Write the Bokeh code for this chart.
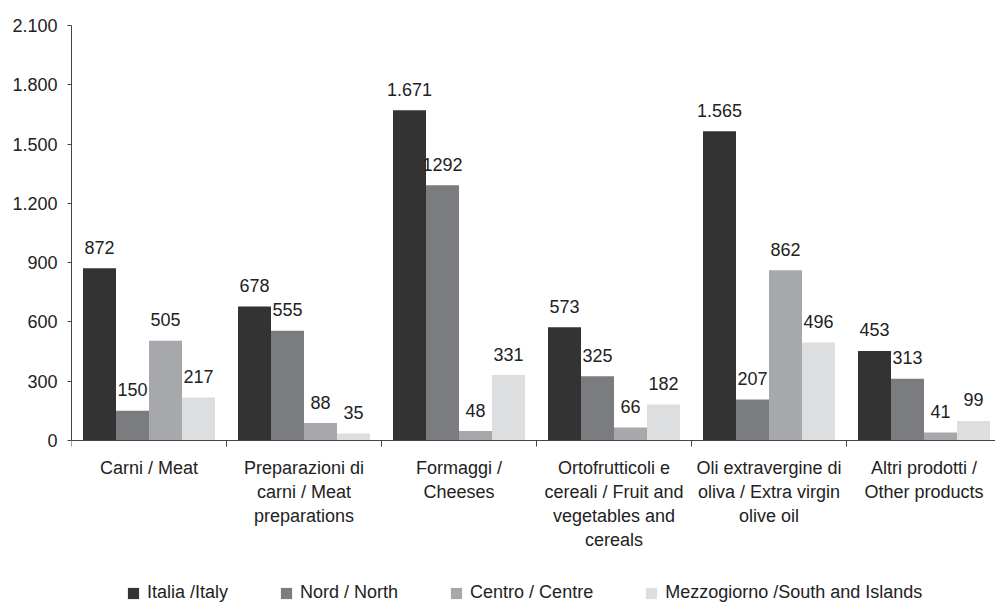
from bokeh.plotting import figure
from bokeh.models import ColumnDataSource, FixedTicker, Range1d, Legend, LegendItem, Span
from bokeh.embed import file_html
from bokeh.resources import INLINE
from bokeh.core.properties import value

categories = [
    "Carni / Meat",
    "Preparazioni di\ncarni / Meat\npreparations",
    "Formaggi /\nCheeses",
    "Ortofrutticoli e\ncereali / Fruit and\nvegetables and\ncereals",
    "Oli extravergine di\noliva / Extra virgin\nolive oil",
    "Altri prodotti /\nOther products",
]
series_names = ["Italia /Italy", "Nord / North", "Centro / Centre", "Mezzogiorno /South and Islands"]
italia = [872, 678, 1671, 573, 1565, 453]
nord = [150, 555, 1292, 325, 207, 313]
centro = [505, 88, 48, 66, 862, 41]
mezzogiorno = [217, 35, 331, 182, 496, 99]
y_ticks = [0, 300, 600, 900, 1200, 1500, 1800, 2100]
colors = ["#333333", "#7b7c80", "#a7a8ab", "#dddee0"]

FONT = "Liberation Sans"
TXT = "#222222"
AX = "#444444"

W, H = 995, 603
LEFT, TOP, ZERO_Y = 71, 25, 440      # pixel layout of the plot area
Y_MAX = 2100
n_cat = len(categories)
cat_px = 155.0
bar_w = 33.0 / cat_px
units_per_px = Y_MAX / (ZERO_Y - TOP)
y_min = -(H - ZERO_Y) * units_per_px

p = figure(width=W, height=H, output_backend="svg", toolbar_location=None,
           x_range=Range1d(0, (W - LEFT) / cat_px), y_range=Range1d(y_min, Y_MAX),
           min_border_left=LEFT, min_border_right=0, min_border_top=TOP, min_border_bottom=0)
p.outline_line_color = None
p.xgrid.grid_line_color = None
p.ygrid.grid_line_color = None
p.background_fill_color = "white"
p.border_fill_color = "white"
p.xaxis.visible = False

all_series = [italia, nord, centro, mezzogiorno]
renderers = []
for j, vals in enumerate(all_series):
    xs = [i + 0.5 + (j - 1.5) * bar_w for i in range(n_cat)]
    if j == 0:
        labels = [f"{v:,}".replace(",", ".") for v in vals]
    else:
        labels = [str(v) for v in vals]
    src = ColumnDataSource(dict(x=xs, top=vals, lab=labels))
    r = p.vbar(x="x", top="top", width=bar_w, source=src, fill_color=colors[j], line_color=None)
    renderers.append(r)
    p.text(x="x", y="top", text="lab", source=src, text_align="center",
           text_baseline="alphabetic", y_offset=-21, text_font=value(FONT),
           text_font_size="18px", text_color=TXT)

# category axis (drawn at value 0)
p.add_layout(Span(location=0, dimension="width", line_color=AX, line_width=1))
bounds = list(range(n_cat + 1))
tick_len = 6 * units_per_px
p.segment(x0=bounds, y0=[0] * len(bounds), x1=bounds, y1=[-tick_len] * len(bounds),
          line_color=AX, line_width=1)
cat_src = ColumnDataSource(dict(x=[i + 0.5 for i in range(n_cat)], y=[0] * n_cat, t=categories))
p.text(x="x", y="y", text="t", source=cat_src, text_align="center", text_baseline="top",
       y_offset=17, text_font=value(FONT), text_font_size="18px", text_color=TXT,
       text_line_height=1.2)

# y axis
ya = p.yaxis[0]
ya.bounds = (0, Y_MAX)
ya.ticker = FixedTicker(ticks=y_ticks)
ya.major_label_overrides = {t: f"{t:,}".replace(",", ".") for t in y_ticks}
ya.minor_tick_line_color = None
ya.major_tick_out = 4
ya.major_tick_in = 0
ya.major_tick_line_color = AX
ya.axis_line_color = AX
ya.major_label_standoff = 10
ya.major_label_text_font = FONT
ya.major_label_text_font_size = "18px"
ya.major_label_text_color = TXT

legend = Legend(items=[LegendItem(label=series_names[j], renderers=[renderers[j]]) for j in range(4)],
                location=(55, 0), orientation="horizontal", spacing=51,
                glyph_width=14, glyph_height=14, label_standoff=7, padding=0, margin=0,
                label_height=20, border_line_color=None, background_fill_alpha=0,
                label_text_font=FONT, label_text_font_size="18px", label_text_color=TXT)
p.add_layout(legend)

open("out.html", "w").write(file_html(p, INLINE))
